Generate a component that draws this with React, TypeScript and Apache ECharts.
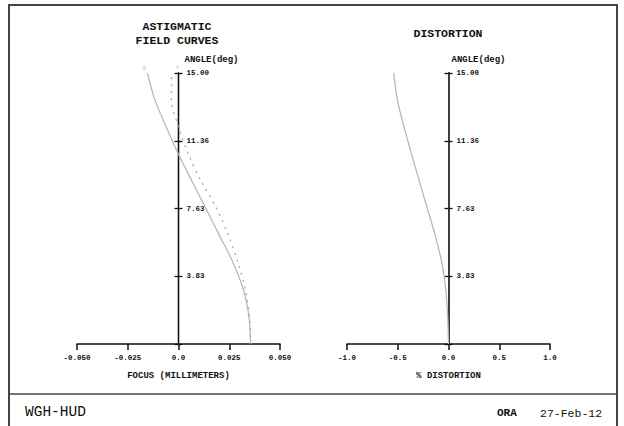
import { useEffect, useRef } from "react";
import * as echarts from "echarts";

// normalized field height (0 = on axis, 1 = full field 15 deg)
const FIELD_H = [0, 0.1, 0.2, 0.3, 0.4, 0.5, 0.6, 0.7, 0.8, 0.9, 1.0];
// astigmatic field curves (mm)
const TAN_FOCUS = [0.0355, 0.0347, 0.032, 0.0269, 0.0202, 0.0135, 0.0067, 0.0, -0.006, -0.0116, -0.0153];
const SAG_FOCUS = [0.0355, 0.035, 0.033, 0.0293, 0.0246, 0.0188, 0.0112, 0.0049, 0.0001, -0.0035, -0.0033];
// distortion (%)
const DISTORTION = [0, -0.008, -0.027, -0.066, -0.13, -0.208, -0.287, -0.363, -0.438, -0.503, -0.54];

const FOCUS_TICKS = ["-0.050", "-0.025", "0.0", "0.025", "0.050"];
const DIST_TICKS = ["-1.0", "-0.5", "0.0", "0.5", "1.0"];
const ANGLE_TICKS = ["", "3.83", "7.63", "11.36", "15.00"];

const FONT = "'Liberation Mono', 'Courier New', monospace";

// plot areas
const PLOTS = [
  { left: 77, width: 203 },
  { left: 347, width: 203 },
];
const TOP = 73;
const HEIGHT = 271;

export default function App() {
  const ref = useRef<HTMLDivElement>(null);
  useEffect(() => {
    const chart = echarts.init(ref.current!, null, { renderer: "svg" });

    const xAxis = (gridIndex: number, min: number, max: number, interval: number, labels: string[], name: string) => ({
      type: "value",
      gridIndex,
      min,
      max,
      interval,
      name,
      nameLocation: "middle",
      nameGap: 27,
      nameTextStyle: { fontFamily: FONT, fontWeight: "bold", fontSize: 9, color: "#111" },
      axisLine: { onZero: false, lineStyle: { color: "#111", width: 1.5 } },
      axisTick: { show: true, length: 6, lineStyle: { color: "#111", width: 1.5 } },
      axisLabel: {
        margin: 10,
        fontFamily: FONT,
        fontWeight: "bold",
        fontSize: 7.5,
        color: "#111",
        formatter: (v: number) => labels[Math.round((v - min) / interval)] ?? "",
      },
      splitLine: { show: false },
    });

    const hiddenX = (gridIndex: number) => ({
      type: "value",
      gridIndex,
      min: 0,
      max: 1,
      show: false,
    });

    const hiddenY = (gridIndex: number) => ({
      type: "value",
      gridIndex,
      min: 0,
      max: 1,
      interval: 0.25,
      show: false,
    });

    const yAxisMain = (gridIndex: number, namePad: number, color: string, width: number) => ({
      type: "value",
      gridIndex,
      position: "left",
      min: 0,
      max: 1,
      interval: 0.25,
      name: "ANGLE(deg)",
      nameLocation: "end",
      nameGap: 9,
      nameTextStyle: {
        fontFamily: FONT,
        fontWeight: "bold",
        fontSize: 9,
        color: "#111",
        align: "left",
        padding: [0, 0, 0, namePad],
      },
      axisLine: { show: true, onZero: false, lineStyle: { color, width } },
      axisTick: { show: true, inside: true, length: 4, lineStyle: { color: "#111", width: 1.3 } },
      axisLabel: {
        inside: true,
        margin: 8,
        fontFamily: FONT,
        fontWeight: "bold",
        fontSize: 7.5,
        color: "#111",
        formatter: (v: number) => ANGLE_TICKS[Math.round(v / 0.25)] ?? "",
      },
      splitLine: { show: false },
    });

    const yAxisTicks = (gridIndex: number, color: string, width: number) => ({
      type: "value",
      gridIndex,
      position: "left",
      min: 0,
      max: 1,
      interval: 0.25,
      axisLine: { show: true, onZero: false, lineStyle: { color, width } },
      axisTick: { show: true, inside: false, length: 4, lineStyle: { color: "#111", width: 1.3 } },
      axisLabel: { show: false },
      splitLine: { show: false },
    });

    const curveStyle = { color: "#b9b9b9", width: 1.3 };
    const endLbl = (text: string, dx: number) => ({
      show: true,
      formatter: text,
      offset: [dx, -5],
      fontFamily: FONT,
      fontSize: 6,
      color: "#c4c4c4",
    });

    chart.setOption({
      animation: false,
      backgroundColor: "#ffffff",
      grid: [
        { left: PLOTS[0].left, top: TOP, width: PLOTS[0].width, height: HEIGHT },
        { left: PLOTS[1].left, top: TOP, width: PLOTS[1].width, height: HEIGHT },
        // holders for the vertical axes, whose left edge is the x = 0 position of each plot
        { left: PLOTS[0].left + PLOTS[0].width / 2, top: TOP, width: PLOTS[0].width / 2, height: HEIGHT },
        { left: PLOTS[1].left + PLOTS[1].width / 2, top: TOP, width: PLOTS[1].width / 2, height: HEIGHT },
      ],
      xAxis: [
        xAxis(0, -0.05, 0.05, 0.025, FOCUS_TICKS, "FOCUS (MILLIMETERS)"),
        xAxis(1, -1, 1, 0.5, DIST_TICKS, "% DISTORTION"),
        hiddenX(2),
        hiddenX(3),
      ],
      yAxis: [
        hiddenY(0),
        hiddenY(1),
        yAxisMain(2, 6, "#111", 1.3),
        yAxisTicks(2, "#111", 1.3),
        yAxisMain(3, 3, "#3c3c3c", 1.8),
        yAxisTicks(3, "#3c3c3c", 1.8),
      ],
      series: [
        {
          type: "line",
          xAxisIndex: 0,
          yAxisIndex: 0,
          data: FIELD_H.map((h, i) => [TAN_FOCUS[i], h]),
          smooth: 0.3,
          showSymbol: false,
          lineStyle: curveStyle,
          endLabel: endLbl("S", -13),
        },
        {
          type: "line",
          xAxisIndex: 0,
          yAxisIndex: 0,
          data: FIELD_H.map((h, i) => [SAG_FOCUS[i], h]),
          smooth: 0.3,
          showSymbol: false,
          lineStyle: { color: "#a8a8a8", width: 1.3, type: [2, 5] },
          endLabel: endLbl("T", -4),
        },
        {
          type: "line",
          xAxisIndex: 1,
          yAxisIndex: 1,
          data: FIELD_H.map((h, i) => [DISTORTION[i], h]),
          smooth: 0.3,
          showSymbol: false,
          lineStyle: curveStyle,
        },
      ],
      graphic: [
        {
          type: "rect",
          shape: { x: 9, y: 5, width: 608, height: 440 },
          style: { fill: "transparent", stroke: "#444", lineWidth: 2 },
          silent: true,
        },
        {
          type: "line",
          shape: { x1: 9, y1: 394, x2: 617, y2: 394 },
          style: { stroke: "#444", lineWidth: 1.5 },
        },
        {
          type: "text",
          x: 177,
          y: 26,
          style: { text: "ASTIGMATIC", font: `bold 11.5px ${FONT}`, fill: "#111", textAlign: "center", textVerticalAlign: "middle" },
        },
        {
          type: "text",
          x: 177,
          y: 40,
          style: { text: "FIELD CURVES", font: `bold 11.5px ${FONT}`, fill: "#111", textAlign: "center", textVerticalAlign: "middle" },
        },
        {
          type: "text",
          x: 448,
          y: 33,
          style: { text: "DISTORTION", font: `bold 11.5px ${FONT}`, fill: "#111", textAlign: "center", textVerticalAlign: "middle" },
        },
        {
          type: "text",
          x: 25,
          y: 412,
          style: { text: "WGH-HUD", font: `14.5px ${FONT}`, fill: "#111", textAlign: "left", textVerticalAlign: "middle" },
        },
        {
          type: "text",
          x: 497,
          y: 413,
          style: { text: "ORA", font: `bold 11px ${FONT}`, fill: "#111", textAlign: "left", textVerticalAlign: "middle" },
        },
        {
          type: "text",
          x: 540,
          y: 413,
          style: { text: "27-Feb-12", font: `11.5px ${FONT}`, fill: "#111", textAlign: "left", textVerticalAlign: "middle" },
        },
      ],
    });
    return () => chart.dispose();
  }, []);
  return <div ref={ref} style={{ position: "fixed", left: 0, top: 0, width: 624, height: 426 }} />;
}
